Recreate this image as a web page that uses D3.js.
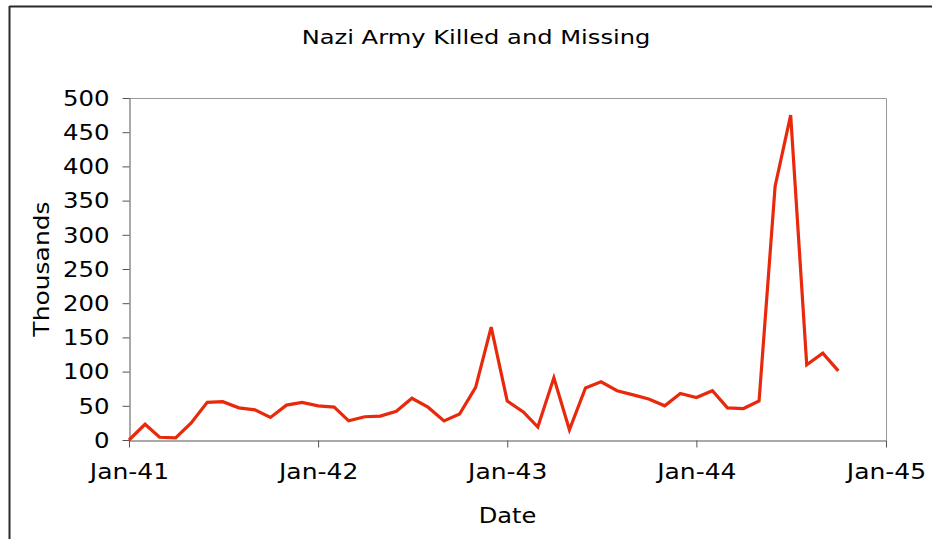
<!DOCTYPE html>
<html>
<head>
<meta charset="utf-8">
<script src="https://cdn.jsdelivr.net/npm/d3@7"></script>
<style>
  body { margin: 0; background: #fff; }
  svg { display: block; font-family: "DejaVu Sans", Verdana, sans-serif; }
</style>
</head>
<body>
<div id="chart"></div>
<script>
// monthly values, thousands, first month Jan-41
const startYear = 1941;
const losses = [
  0, 23, 4, 3, 25, 55, 56, 47, 44, 33, 51, 55,
  50, 48, 28, 34, 35, 42, 61, 48, 28, 38, 77, 165,
  57, 41, 19, 91, 15, 76, 85, 72, 66, 60, 50, 68,
  62, 72, 47, 46, 57, 371, 475, 110, 127, 101
];
const yTicks = [0, 50, 100, 150, 200, 250, 300, 350, 400, 450, 500];
const xTickYears = [1941, 1942, 1943, 1944, 1945];

const width = 932, height = 539;
const margin = { top: 98, right: 46, bottom: 99, left: 129 };
const stretch = 1.19; // text in the picture is wider than DejaVu

const data = losses.map((v, i) => ({ date: new Date(startYear, i, 1), value: v }));

const svg = d3.select("#chart").append("svg")
  .attr("width", width)
  .attr("height", height);

// outer frame (top and left edges visible)
svg.append("line").attr("x1", 9.5).attr("x2", width).attr("y1", 6.5).attr("y2", 6.5)
  .attr("stroke", "#2a2a2a").attr("stroke-width", 2);
svg.append("line").attr("x1", 9.5).attr("x2", 9.5).attr("y1", 6).attr("y2", height)
  .attr("stroke", "#2a2a2a").attr("stroke-width", 2);

const x = d3.scaleTime()
  .domain([new Date(1941, 0, 1), new Date(1945, 0, 1)])
  .range([margin.left, width - margin.right]);

const y = d3.scaleLinear()
  .domain([0, 500])
  .range([height - margin.bottom, margin.top]);

// plot border top / right
svg.append("path")
  .attr("d", `M${x.range()[0]},${y(500) + 0.5}H${x.range()[1] + 0.5}V${y(0)}`)
  .attr("fill", "none")
  .attr("stroke", "#9a9a9a");

// y axis
const yAxis = svg.append("g")
  .attr("transform", `translate(${margin.left + 0.5},0)`)
  .call(d3.axisLeft(y).tickValues(yTicks).tickSize(7).tickSizeOuter(0).tickPadding(13));
yAxis.select(".domain").attr("stroke", "#555");
yAxis.selectAll(".tick line").attr("stroke", "#555");
yAxis.selectAll(".tick text")
  .attr("font-size", 20.5)
  .attr("fill", "#000")
  .attr("font-family", "DejaVu Sans")
  .attr("x", -20 / stretch)
  .attr("dy", "0.36em")
  .attr("transform", `scale(${stretch},1)`);

// x axis
const xAxis = svg.append("g")
  .attr("transform", `translate(0,${y(0) + 0.5})`)
  .call(d3.axisBottom(x)
    .tickValues(xTickYears.map(yr => new Date(yr, 0, 1)))
    .tickFormat(d3.timeFormat("%b-%y"))
    .tickSize(7).tickSizeOuter(0).tickPadding(17));
xAxis.select(".domain").attr("stroke", "#555");
xAxis.selectAll(".tick line").attr("stroke", "#555");
xAxis.selectAll(".tick text")
  .attr("font-size", 21)
  .attr("fill", "#000")
  .attr("font-family", "DejaVu Sans")
  .attr("transform", `scale(${stretch},1)`);

// line
const line = d3.line()
  .x(d => x(d.date))
  .y(d => y(d.value));

svg.append("path")
  .datum(data)
  .attr("d", line)
  .attr("fill", "none")
  .attr("stroke", "#e8290b")
  .attr("stroke-width", 3.2)
  .attr("stroke-linejoin", "miter");

// title and axis titles
svg.append("text")
  .attr("transform", `translate(476,43.5) scale(1.24,1)`)
  .attr("text-anchor", "middle")
  .attr("font-size", 19.5)
  .text("Nazi Army Killed and Missing");

svg.append("text")
  .attr("transform", `translate(${(x.range()[0] + x.range()[1]) / 2},523) scale(1.15,1)`)
  .attr("text-anchor", "middle")
  .attr("font-size", 21)
  .text("Date");

svg.append("text")
  .attr("transform", `translate(49,${(y(0) + y(500)) / 2}) rotate(-90) scale(${stretch},1)`)
  .attr("text-anchor", "middle")
  .attr("font-size", 21)
  .text("Thousands");
</script>
</body>
</html>
